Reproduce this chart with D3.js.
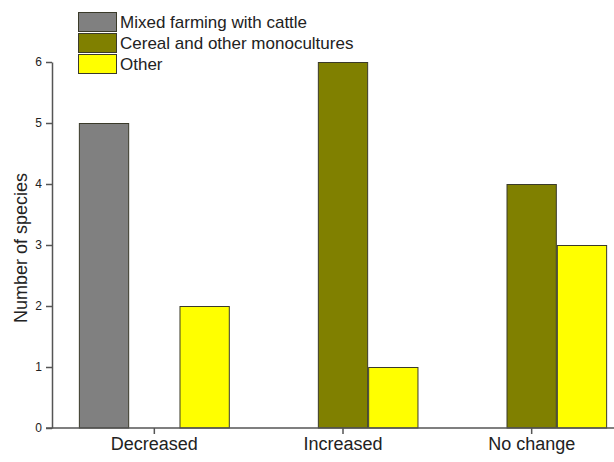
<!DOCTYPE html>
<html>
<head>
<meta charset="utf-8">
<script src="https://cdn.jsdelivr.net/npm/d3@7"></script>
<style>
  body { margin: 0; background: #fff; }
  svg { display: block; font-family: "Liberation Sans", Arial, sans-serif; }
</style>
</head>
<body>
<svg id="chart"></svg>
<script>
const categories = ["Decreased", "Increased", "No change"];
const seriesNames = ["Mixed farming with cattle", "Cereal and other monocultures", "Other"];
const mixedFarming = [5, 0, 0];
const cereal = [0, 6, 4];
const other = [2, 1, 3];
const yTicks = [0, 1, 2, 3, 4, 5, 6];

const seriesValues = [mixedFarming, cereal, other];
const colors = ["#808080", "#808000", "#ffff00"];

const width = 614, height = 462;
const svg = d3.select("#chart").attr("width", width).attr("height", height);

const axisX = 52;
const y = d3.scaleLinear().domain([0, 6]).range([428, 62]);

const x = d3.scaleBand()
  .domain(categories)
  .range([60, 626])
  .paddingInner(0.2)
  .paddingOuter(0.1);

const xs = d3.scaleBand()
  .domain(seriesNames)
  .range([0, x.bandwidth()]);

// bars
const groups = svg.append("g")
  .selectAll("g")
  .data(categories)
  .enter()
  .append("g")
  .attr("transform", (d) => `translate(${x(d)},0)`);

groups.selectAll("rect")
  .data((d, i) => seriesNames.map((s, j) => ({ s, j, v: seriesValues[j][i] })))
  .enter()
  .filter((d) => d.v > 0)
  .append("rect")
  .attr("x", (d) => xs(d.s) + 0.5)
  .attr("y", (d) => y(d.v) + 0.5)
  .attr("width", xs.bandwidth() - 1)
  .attr("height", (d) => y(0) - y(d.v) - 0.5)
  .attr("fill", (d) => colors[d.j])
  .attr("stroke", "#3a3a2a")
  .attr("stroke-width", 1);

// y axis
const yAxis = svg.append("g")
  .attr("transform", `translate(${axisX},0)`)
  .call(d3.axisLeft(y).tickValues(yTicks).tickFormat(d3.format("d"))
    .tickSize(6).tickSizeOuter(0).tickPadding(4));
yAxis.selectAll("text").style("font-size", "12px").attr("fill", "#222");
yAxis.selectAll("line, path").attr("stroke", "#555").attr("stroke-width", 1.5);

// x axis
const xAxis = svg.append("g")
  .attr("transform", `translate(0,${y(0)})`)
  .call(d3.axisBottom(x).tickSize(6).tickPadding(3));
xAxis.select(".domain").remove();
xAxis.selectAll("text").style("font-size", "18px").attr("fill", "#222");
xAxis.selectAll("line").attr("stroke", "#555").attr("stroke-width", 1.5);
xAxis.append("line")
  .attr("x1", axisX - 6)
  .attr("x2", width)
  .attr("y1", 0)
  .attr("y2", 0)
  .attr("stroke", "#555")
  .attr("stroke-width", 1.5);

// y label
svg.append("text")
  .attr("transform", `translate(27,${(y(0) + y(6)) / 2 + 3}) rotate(-90)`)
  .attr("text-anchor", "middle")
  .style("font-size", "18px")
  .attr("fill", "#222")
  .text("Number of species");

// legend
const legend = svg.append("g")
  .selectAll("g")
  .data(seriesNames)
  .enter()
  .append("g")
  .attr("transform", (d, i) => `translate(78,${12 + i * 21})`);

legend.append("rect")
  .attr("x", 0.5)
  .attr("y", 0.5)
  .attr("width", 38)
  .attr("height", 19)
  .attr("fill", (d, i) => colors[i])
  .attr("stroke", "#3a3a2a");

legend.append("text")
  .attr("x", 42)
  .attr("y", 10)
  .attr("dy", "0.35em")
  .style("font-size", "17px")
  .attr("fill", "#222")
  .text((d) => d);
</script>
</body>
</html>
